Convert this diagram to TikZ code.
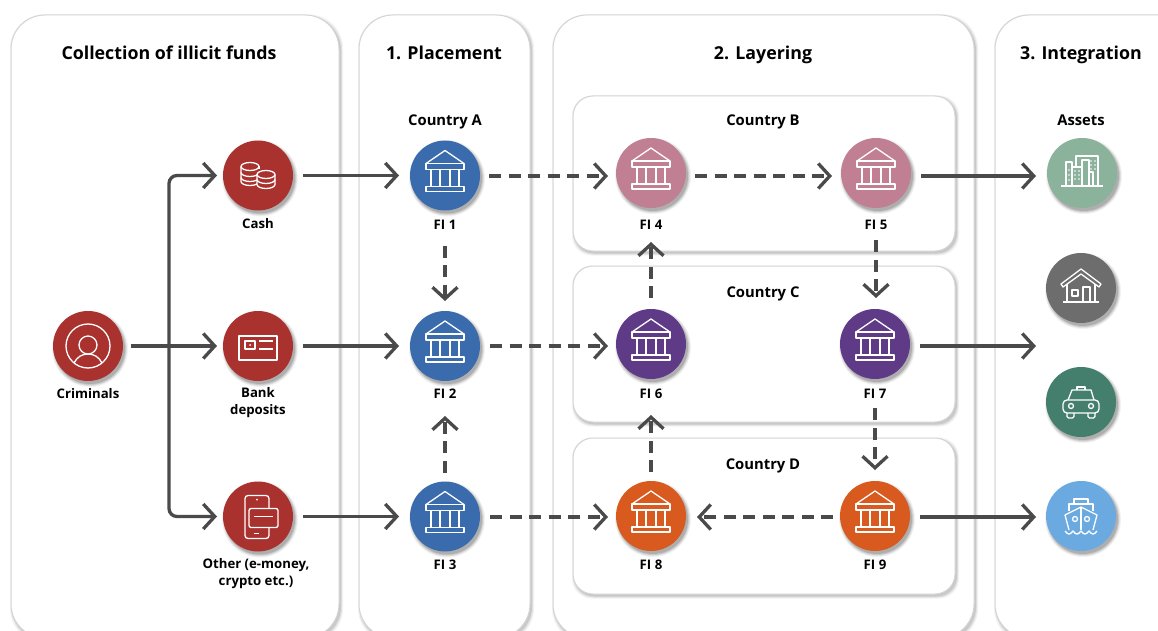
\documentclass[tikz,border=0pt]{standalone}
\usepackage{fontspec}
\setmainfont{Open Sans}
\usetikzlibrary{arrows.meta,calc}
\definecolor{cred}{HTML}{A9322F}
\definecolor{cblue}{HTML}{3A6BAC}
\definecolor{cpink}{HTML}{C07F92}
\definecolor{cpurple}{HTML}{5E3A87}
\definecolor{corange}{HTML}{D95A1E}
\definecolor{csage}{HTML}{8BB29B}
\definecolor{cgrey}{HTML}{6D6D6D}
\definecolor{cgreen}{HTML}{437F6C}
\definecolor{csky}{HTML}{6BAAE0}
\definecolor{cline}{HTML}{4A4A4A}
\definecolor{cedge}{HTML}{D4D4D4}
\tikzset{
  x=1pt,y=-1pt,
  panel/.style={draw=cedge,line width=1pt,fill=white,rounded corners=34pt},
  countrybox/.style={draw=cedge,line width=1pt,fill=white,rounded corners=20pt},
  disc/.style={circle,minimum size=70pt,inner sep=0pt,outer sep=0pt,fill=#1},
  title/.style={font=\fontsize{17.8}{22}\selectfont\bfseries,inner sep=0pt,anchor=base},
  head/.style={font=\fontsize{14.8}{18}\selectfont\bfseries,inner sep=0pt,anchor=base},
  lab/.style={font=\fontsize{13.2}{17}\selectfont\bfseries,inner sep=0pt,anchor=base},
  labtwo/.style={font=\fontsize{13.2}{17}\selectfont\bfseries,inner sep=0pt,align=center},
  flow/.style={draw=cline,line width=3.3pt,-{Straight Barb[length=11.5pt,width=25pt,line width=3.3pt]},shorten >=11pt,shorten <=10pt},
  money/.style={flow,dash pattern=on 12pt off 7.5pt},
  icon/.style={draw=white,line width=1.3pt,line join=round},
  bank/.pic={
    \draw[icon] (-19,-12) -- (0,-25) -- (19,-12);
    \draw[icon] (-19,-12) rectangle (19,-6);
    \draw[icon] (-14,-6) -- (-14,11) (-5,-6) -- (-5,11) (5,-6) -- (5,11) (14,-6) -- (14,11);
    \draw[icon] (-19,11) rectangle (19,16);
  },
  coins/.pic={
    \draw[icon] (-17,-9) arc[start angle=180,end angle=-180,x radius=9,y radius=4];
    \draw[icon] (-17,-9) -- (-17,6) arc[start angle=180,end angle=0,x radius=9,y radius=4];
    \draw[icon] (-17,-3) arc[start angle=180,end angle=0,x radius=9,y radius=4];
    \draw[icon] (-17,2) arc[start angle=180,end angle=0,x radius=9,y radius=4];
    \draw[icon] (1,-9) -- (1,-6);
    \draw[icon,fill=cred] (-1,-1) -- (-1,9) arc[start angle=180,end angle=0,x radius=9,y radius=4] -- (17,-1) arc[start angle=0,end angle=-180,x radius=9,y radius=4] -- cycle;
    \draw[icon] (-1,-1) arc[start angle=180,end angle=0,x radius=9,y radius=4];
    \draw[icon] (-1,4) arc[start angle=180,end angle=0,x radius=9,y radius=4];
  },
  person/.pic={
    \draw[icon] (0,0) circle[radius=22];
    \draw[icon] (0,-1) circle[radius=9];
    \draw[icon] (-14,17) .. controls (-11,11) and (-6,8) .. (0,8) .. controls (6,8) and (11,11) .. (14,17);
  },
  idcard/.pic={
    \draw[icon] (-19,-10) rectangle (19,14);
    \draw[icon] (-13,-5) rectangle (-3,3);
    \fill[white] (-8,-1) circle[radius=1];
    \draw[icon] (1,-5) -- (15,-5) (1,3) -- (15,3);
  },
  phone/.pic={
    \draw[icon,rounded corners=3pt] (-13,-21) rectangle (11,22);
    \draw[icon,fill=cred,rounded corners=2pt] (-9,-8) rectangle (20,11);
    \draw[icon] (-4,0) -- (15,0);
    \fill[white] (-1,-17) circle[radius=1];
    \draw[icon] (-4,17) -- (1,17);
  },
  city/.pic={
    \draw[icon] (-21,13) -- (21,13);
    \draw[icon] (-16,13) -- (-16,-11) -- (-10,-11) -- (-10,13);
    \draw[icon] (-10,-6) -- (0,-6) (0,-6) -- (0,13);
    \draw[icon] (-6,-6) -- (-6,-17) -- (16,-17) -- (16,13);
    \draw[icon] (0,-6) -- (0,-13) -- (7,-13) -- (7,13);
    \draw[icon] (7,-1) -- (11,-1) -- (11,13);
    \foreach \px/\py in {-13/-3,-13/2,-13/7,-7/-2,-3/-2,-7/2,-3/2,-7/6,-3/6,9/-12,13/-12,9/-8,13/-8,9/-4,13/-4}
      \fill[white] (\px,\py) circle[radius=.8];
  },
  house/.pic={
    \draw[icon] (-20,-4) -- (0,-19) -- (20,-4) -- (18,-1) -- (0,-14) -- (-18,-1) -- cycle;
    \draw[icon] (-14,-4) -- (-14,14) (14,-4) -- (14,14);
    \draw[icon] (-18,14) -- (18,14);
    \draw[icon] (2,14) -- (2,-1) -- (9,-1) -- (9,14);
    \draw[icon] (-9,2) rectangle (-3,8);
  },
  car/.pic={
    \draw[icon] (-13,-2) -- (-9,-12) -- (10,-12) -- (13,-2);
    \draw[icon] (-4,-12) -- (-4,-15) -- (4,-15) -- (4,-12);
    \draw[icon,rounded corners=4pt] (-18,-2) rectangle (18,11);
    \draw[icon] (-10,4) circle[radius=2.5] (10,4) circle[radius=2.5];
    \draw[icon,rounded corners=1.5pt] (-14,11) -- (-14,16) -- (-7,16) -- (-7,11);
    \draw[icon,rounded corners=1.5pt] (7,11) -- (7,16) -- (14,16) -- (14,11);
  },
  ship/.pic={
    \draw[icon] (-7,-12) -- (-7,-17) -- (7,-17) -- (7,-12);
    \draw[icon] (-12,-5) -- (-12,-12) -- (12,-12) -- (12,-5);
    \draw[icon] (-12,14) -- (-16,-1) -- (0,-9) -- (16,-1) -- (12,14);
    \draw[icon] (0,-9) -- (0,14);
    \draw[icon] (-6,3) circle[radius=2.5] (6,3) circle[radius=2.5];
    \draw[icon] (-16,15) .. controls (-13,19) and (-11,19) .. (-8,15) .. controls (-5,19) and (-3,19) .. (0,15) .. controls (3,19) and (5,19) .. (8,15) .. controls (11,19) and (13,19) .. (16,15);
  },
}
\newcommand{\softbox}[5]{% x1,y1,x2,y2,radius
  \foreach \grow/\op in {2.5/.05,1.5/.07,.5/.1}{
    \fill[black,opacity=\op,rounded corners=#5pt] (#1+1.5-\grow,#2+2-\grow) rectangle (#3+1.5+\grow,#4+2+\grow);
  }}
\newcommand{\mydisc}[4]{% name, x, y, colour
  \foreach \grow/\op in {3/.05,2/.07,1/.1,0/.13}{
    \fill[black,opacity=\op] (#2+2,#3+3) circle[radius=35+\grow];
  }
  \node[disc=#4] (#1) at (#2,#3) {};}
\begin{document}
\begin{tikzpicture}
\clip (0,0) rectangle (1158,631);
\fill[white] (0,0) rectangle (1158,631);
% panels
\softbox{11}{15}{339}{638}{34}
\path[panel] (11,15) rectangle (339,638);
\softbox{359}{15}{530}{638}{34}
\path[panel] (359,15) rectangle (530,638);
\softbox{553}{15}{974}{638}{34}
\path[panel] (553,15) rectangle (974,638);
\softbox{995}{15}{1200}{638}{34}
\path[panel] (995,15) rectangle (1200,638);
\softbox{573}{96}{955}{251}{20}
\path[countrybox] (573,96) rectangle (955,251);
\softbox{573}{266}{955}{422}{20}
\path[countrybox] (573,266) rectangle (955,422);
\softbox{573}{438}{955}{594}{20}
\path[countrybox] (573,438) rectangle (955,594);
% titles
\node[title] (t0) at (169,60) {Collection of illicit funds};
\node[title] (t1) at (444,60) {1. Placement};
\node[title] (t2) at (763,60) {2. Layering};
\node[title] (t3) at (1081,60) {3. Integration};
\node[head] (ca) at (445,126) {Country A};
\node[head] (cb) at (763,126) {Country B};
\node[head] (cc) at (763,297) {Country C};
\node[head] (cd) at (763,469) {Country D};
\node[head] (as) at (1081,126) {Assets};
% discs
\mydisc{crim}{88}{346}{cred}
\mydisc{cash}{258}{175.5}{cred}
\mydisc{dep}{258}{346}{cred}
\mydisc{oth}{258}{516.5}{cred}
\mydisc{f1}{445}{175.5}{cblue}
\mydisc{f2}{445}{346}{cblue}
\mydisc{f3}{445}{516.5}{cblue}
\mydisc{f4}{651}{173}{cpink}
\mydisc{f5}{876}{173}{cpink}
\mydisc{f6}{651}{344}{cpurple}
\mydisc{f7}{875}{344}{cpurple}
\mydisc{f8}{651}{516}{corange}
\mydisc{f9}{875}{516}{corange}
\mydisc{a1}{1082}{173}{csage}
\mydisc{a2}{1081}{288}{cgrey}
\mydisc{a3}{1081}{402}{cgreen}
\mydisc{a4}{1081}{516}{csky}
% icons
\pic at (crim) {person};
\pic at (cash) {coins};
\pic at (dep) {idcard};
\pic at (oth) {phone};
\foreach \n in {f1,f2,f3,f4,f5,f6,f7,f8,f9} \pic at (\n) {bank};
\pic at (a1) {city};
\pic at (a2) {house};
\pic at (a3) {car};
\pic at (a4) {ship};
% labels
\node[lab] (lcrim) at (88,398) {Criminals};
\node[lab] (lcash) at (258,228) {Cash};
\node[labtwo] (ldep) at (258,403) {Bank\\deposits};
\node[labtwo] (loth) at (256,574) {Other (e-money,\\crypto etc.)};
\node[lab] (l1) at (445,229) {FI 1};
\node[lab] (l2) at (445,398) {FI 2};
\node[lab] (l3) at (445,569) {FI 3};
\node[lab] (l4) at (651,229) {FI 4};
\node[lab] (l5) at (876,229) {FI 5};
\node[lab] (l6) at (651,398) {FI 6};
\node[lab] (l7) at (875,398) {FI 7};
\node[lab] (l8) at (651,569) {FI 8};
\node[lab] (l9) at (875,569) {FI 9};
% free ends
\coordinate (jn) at (169,346);
\coordinate (out7) at (1047,346);
\coordinate (out5) at (1047,176);
\coordinate (out9) at (1047,517);
\coordinate (in4) at (616,176);
\coordinate (in5) at (841,176);
\coordinate (in8) at (616,517);
\coordinate (in9) at (833,517);
% solid connectors
\draw[flow,shorten <=8pt,shorten >=6pt] (crim.east) -- (dep.west);
\draw[flow,shorten <=0pt,shorten >=6pt,rounded corners=8pt] (jn) |- (cash.west);
\draw[flow,shorten <=0pt,shorten >=6pt,rounded corners=8pt] (jn) |- (oth.west);
\draw[flow] (cash.east) -- (f1.west);
\draw[flow] (dep.east) -- (f2.west);
\draw[flow] (oth.east) -- (f3.west);
\draw[flow] (f5.east |- out5) -- (out5);
\draw[flow] (f7.east |- out7) -- (out7);
\draw[flow] (f9.east |- out9) -- (out9);
% dashed connectors
\draw[money,shorten <=9pt,shorten >=8pt] (f1.east |- in4) -- (in4);
\draw[money,shorten <=9pt,shorten >=9pt] (in4 -| f4.east) -- (in5);
\draw[money,shorten <=10pt,shorten >=8pt] (f2.east) -- (f2.east -| f6.west);
\draw[money,shorten <=10pt,shorten >=8pt] (f3.east |- in8) -- (in8);
\draw[money,shorten <=0pt,shorten >=11pt] (in9) -- (f8.east |- in9);
\draw[money,shorten <=35pt,shorten >=10pt] (f1.south) -- (f2.north);
\draw[money,shorten <=9pt,shorten >=35pt] (f3.north) -- (f2.south);
\draw[money,shorten <=11pt,shorten >=34pt] (f6.north) -- (f4.south);
\draw[money,shorten <=32pt,shorten >=11pt] (f5.south) -- (f5.south |- f7.north);
\draw[money,shorten <=29pt,shorten >=11pt] (f7.south) -- (f9.north);
\draw[money,shorten <=9pt,shorten >=36pt] (f8.north) -- (f6.south);
\end{tikzpicture}
\end{document}
